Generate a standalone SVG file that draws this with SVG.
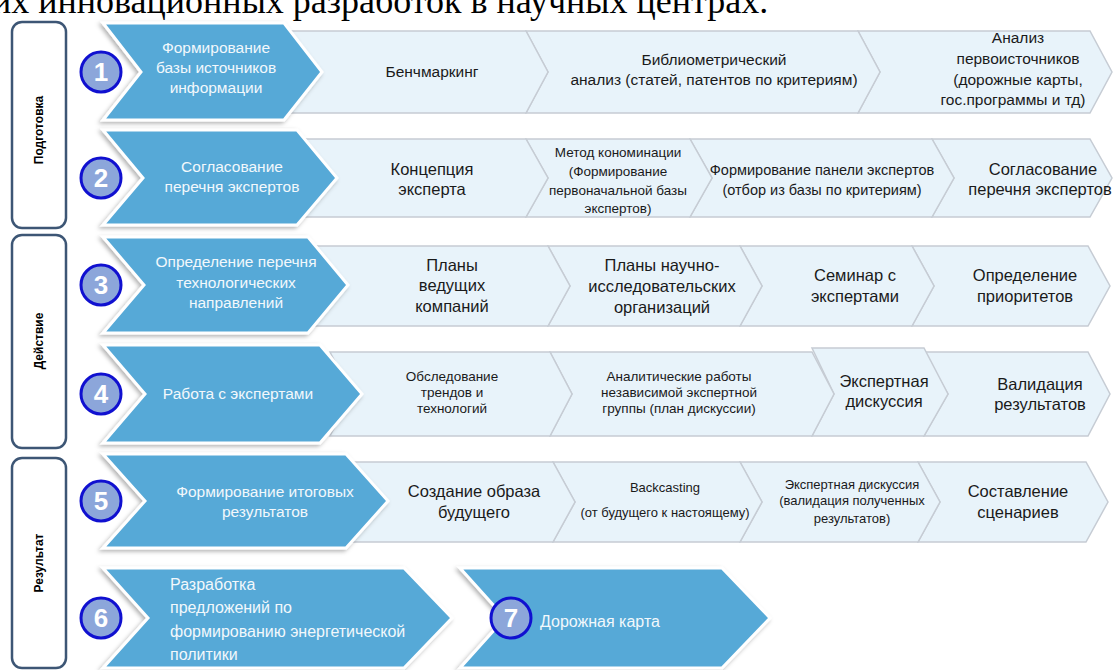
<svg xmlns="http://www.w3.org/2000/svg" width="1115" height="670" viewBox="0 0 1115 670">
<defs>
<filter id="sh" x="-10%" y="-10%" width="120%" height="125%">
<feDropShadow dx="-2" dy="2" stdDeviation="2" flood-color="#000" flood-opacity="0.3"/>
</filter>
</defs>
<style>
.lbl{fill:#fff;stroke:#3d5675;stroke-width:2.5}
.lt{font-family:"Liberation Sans",Arial,sans-serif;font-weight:bold;font-size:12px;fill:#000;text-anchor:middle}
.blue{fill:#57a9d7;stroke:#fff;stroke-width:3;filter:url(#sh)}
.seg{fill:#e8f3fa;stroke:#c6ccd4;stroke-width:1.5}
.num circle{fill:#8ca6da;stroke:#1010d0;stroke-width:3}
.num text{font-family:"Liberation Sans",Arial,sans-serif;font-weight:bold;font-size:26px;fill:#fff;text-anchor:middle}
.bt{font-family:"Liberation Sans",Arial,sans-serif;font-size:15.5px;fill:#f2f8fc;text-anchor:middle}
.bl{font-family:"Liberation Sans",Arial,sans-serif;font-size:16px;fill:#f2f8fc}
.t{font-family:"Liberation Sans",Arial,sans-serif;font-size:15.5px;fill:#1a1a1a;text-anchor:middle}
.tl{font-family:"Liberation Sans",Arial,sans-serif;font-size:16.5px;fill:#1a1a1a;text-anchor:middle}
.ts{font-family:"Liberation Sans",Arial,sans-serif;font-size:13.5px;fill:#1a1a1a;text-anchor:middle}
.tm{font-family:"Liberation Sans",Arial,sans-serif;font-size:14.5px;fill:#1a1a1a;text-anchor:middle}
.tx{font-family:"Liberation Sans",Arial,sans-serif;font-size:13px;fill:#1a1a1a;text-anchor:middle}
.title{font-family:"Liberation Serif","Times New Roman",serif;font-size:36px;fill:#000}
</style>
<rect width="1115" height="670" fill="#fff"/>
<text class="title" x="-8" y="13">их инновационных разработок в научных центрах.</text>

<g id="phase-prep"><rect class="lbl" x="12" y="22" width="54" height="206" rx="10"/><text class="lt" transform="translate(43,130) rotate(-90)">Подготовка</text></g>
<g id="phase-action"><rect class="lbl" x="12" y="235" width="54" height="213" rx="10"/><text class="lt" transform="translate(43,341) rotate(-90)">Действие</text></g>
<g id="phase-result"><rect class="lbl" x="12" y="458" width="54" height="210" rx="10"/><text class="lt" transform="translate(43,563) rotate(-90)">Результат</text></g>

<g id="connectors"></g>

<!-- Row 1 -->
<g id="row1-steps">
<polygon class="seg" points="858,31 1090,31 1112,72 1090,113 858,113 880,72"/>
<polygon class="seg" points="526,31 858,31 880,72 858,113 526,113 548,72"/>
<polygon class="seg" points="280,31 526,31 548,72 526,113 280,113 302,72"/>
<text class="t" x="432" y="77">Бенчмаркинг</text>
<text class="t" x="714" y="65">Библиометрический</text>
<text class="t" x="714" y="85">анализ (статей, патентов по критериям)</text>
<text class="t" x="1018" y="43">Анализ</text>
<text class="t" x="1018" y="64">первоисточников</text>
<text class="t" x="1018" y="85">(дорожные карты,</text>
<text class="t" x="1013" y="105">гос.программы и тд)</text>
</g>
<g id="row1-main">
<polygon class="blue" points="103,23 284,23 322,72 284,120 103,120 141,72"/>
<text class="bt" x="216" y="53">Формирование</text>
<text class="bt" x="216" y="73">базы источников</text>
<text class="bt" x="216" y="93">информации</text>
<g class="num"><circle cx="101" cy="72" r="20"/><text x="101" y="81">1</text></g>
</g>

<!-- Row 2 -->
<g id="row2-steps">
<polygon class="seg" points="932,139 1090,139 1112,178 1090,217 932,217 954,178"/>
<polygon class="seg" points="690,139 932,139 954,178 932,217 690,217 712,178"/>
<polygon class="seg" points="526,139 690,139 712,178 690,217 526,217 548,178"/>
<polygon class="seg" points="300,139 526,139 548,178 526,217 300,217 322,178"/>
<text class="tl" x="432" y="175">Концепция</text>
<text class="tl" x="432" y="195">эксперта</text>
<text class="ts" x="618" y="157">Метод кономинации</text>
<text class="ts" x="618" y="176">(Формирование</text>
<text class="ts" x="618" y="195">первоначальной базы</text>
<text class="ts" x="618" y="213">экспертов)</text>
<text class="tm" x="822" y="175">Формирование панели экспертов</text>
<text class="tm" x="822" y="195">(отбор из базы по критериям)</text>
<text class="tl" x="1043" y="175">Согласование</text>
<text class="tl" x="1040" y="195">перечня экспертов</text>
</g>
<g id="row2-main">
<polygon class="blue" points="103,130 297,130 337,178 297,225 103,225 143,178"/>
<text class="bt" x="232" y="172">Согласование</text>
<text class="bt" x="232" y="192">перечня экспертов</text>
<g class="num"><circle cx="101" cy="178" r="20"/><text x="101" y="187">2</text></g>
</g>

<!-- Row 3 -->
<g id="row3-steps">
<polygon class="seg" points="912,246 1088,246 1110,286 1088,326 912,326 934,286"/>
<polygon class="seg" points="740,246 912,246 934,286 912,326 740,326 762,286"/>
<polygon class="seg" points="548,246 740,246 762,286 740,326 548,326 570,286"/>
<polygon class="seg" points="310,246 548,246 570,286 548,326 310,326 332,286"/>
<text class="tl" x="452" y="271">Планы</text>
<text class="tl" x="452" y="291">ведущих</text>
<text class="tl" x="452" y="312">компаний</text>
<text class="tl" x="662" y="271">Планы научно-</text>
<text class="tl" x="662" y="292">исследовательских</text>
<text class="tl" x="662" y="313">организаций</text>
<text class="tl" x="855" y="281">Семинар с</text>
<text class="tl" x="855" y="302">экспертами</text>
<text class="tl" x="1025" y="281">Определение</text>
<text class="tl" x="1025" y="302">приоритетов</text>
</g>
<g id="row3-main">
<polygon class="blue" points="103,237 308,237 348,285 308,333 103,333 144,285"/>
<text class="bt" x="236" y="267">Определение перечня</text>
<text class="bt" x="236" y="288">технологических</text>
<text class="bt" x="236" y="308">направлений</text>
<g class="num"><circle cx="101" cy="285" r="20"/><text x="101" y="294">3</text></g>
</g>

<!-- Row 4 -->
<g id="row4-steps">
<polygon class="seg" points="924,352 1088,352 1110,394 1088,436 924,436 948,394"/>
<polygon class="seg" points="812,348 924,348 948,394 924,436 812,436 834,394"/>
<polygon class="seg" points="550,352 812,352 834,394 812,436 550,436 572,394"/>
<polygon class="seg" points="330,352 550,352 572,394 550,436 330,436 352,394"/>
<text class="ts" x="452" y="381">Обследование</text>
<text class="ts" x="452" y="397">трендов и</text>
<text class="ts" x="452" y="413">технологий</text>
<text class="ts" x="679" y="381">Аналитические работы</text>
<text class="ts" x="679" y="397">независимой экспертной</text>
<text class="ts" x="679" y="413">группы (план дискуссии)</text>
<text class="tl" x="884" y="387">Экспертная</text>
<text class="tl" x="884" y="407">дискуссия</text>
<text class="tl" x="1040" y="390">Валидация</text>
<text class="tl" x="1040" y="410">результатов</text>
</g>
<g id="row4-main">
<polygon class="blue" points="103,345 320,345 362,394 320,443 103,443 145,394"/>
<text class="bt" x="238" y="399">Работа с экспертами</text>
<g class="num"><circle cx="101" cy="394" r="20"/><text x="101" y="403">4</text></g>
</g>

<!-- Row 5 -->
<g id="row5-steps">
<polygon class="seg" points="918,462 1086,462 1108,502 1086,542 918,542 940,502"/>
<polygon class="seg" points="740,462 918,462 940,502 918,542 740,542 762,502"/>
<polygon class="seg" points="553,462 740,462 762,502 740,542 553,542 575,502"/>
<polygon class="seg" points="350,462 553,462 575,502 553,542 350,542 372,502"/>
<text class="tl" x="474" y="497">Создание образа</text>
<text class="tl" x="474" y="518">будущего</text>
<text class="tx" x="665" y="492">Backcasting</text>
<text class="tx" x="665" y="517">(от будущего к настоящему)</text>
<text class="tx" x="852" y="489">Экспертная дискуссия</text>
<text class="tx" x="852" y="505">(валидация полученных</text>
<text class="tx" x="852" y="523">результатов)</text>
<text class="tl" x="1018" y="497">Составление</text>
<text class="tl" x="1018" y="518">сценариев</text>
</g>
<g id="row5-main">
<polygon class="blue" points="103,454 346,454 388,501 346,548 103,548 145,501"/>
<text class="bt" x="265" y="497">Формирование итоговых</text>
<text class="bt" x="265" y="517">результатов</text>
<g class="num"><circle cx="101" cy="501" r="20"/><text x="101" y="510">5</text></g>
</g>

<!-- Row 6 -->
<g id="row6-main">
<polygon class="blue" points="103,568 404,568 452,618 404,668 103,668 148,618"/>
<text class="bl" x="170" y="590">Разработка</text>
<text class="bl" x="170" y="613">предложений по</text>
<text class="bl" x="170" y="637">формированию энергетической</text>
<text class="bl" x="170" y="660">политики</text>
<g class="num"><circle cx="101" cy="618" r="20"/><text x="101" y="627">6</text></g>
</g>
<g id="row7-main">
<polygon class="blue" points="460,568 722,568 770,618 722,668 460,668 505,618"/>
<text class="bl" x="540" y="627">Дорожная карта</text>
<g class="num"><circle cx="511" cy="618" r="20"/><text x="511" y="627">7</text></g>
</g>
</svg>
